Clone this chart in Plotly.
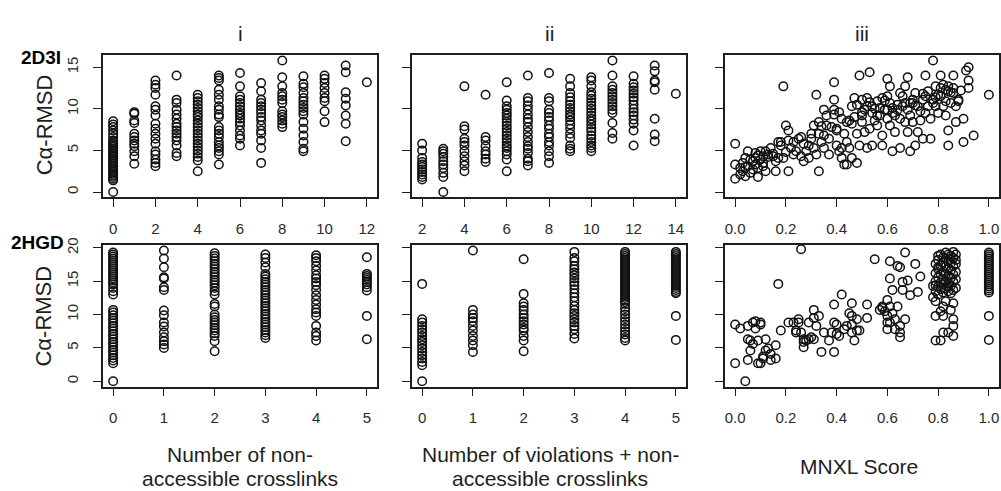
import plotly.graph_objects as go

# ---------------- data ----------------
# 2D3I, panel i: number of non-accessible crosslinks vs C-alpha RMSD
d3i_i_cats = [0, 1, 2, 3, 4, 5, 6, 7, 8, 9, 10, 11, 12]
d3i_i_vals = [
    [0.0, 1.4, 1.6, 1.8, 2.0, 2.2, 2.4, 2.6, 2.8, 3.0, 3.2, 3.4, 3.6, 3.8, 4.0, 4.2, 4.4, 4.6, 4.8, 5.0,
     5.2, 5.4, 5.6, 5.8, 6.0, 6.2, 6.6, 7.0, 7.4, 7.8, 8.1, 8.5],
    [3.4, 4.3, 4.9, 5.5, 5.8, 6.2, 6.6, 7.0, 8.3, 8.6, 9.4, 9.6],
    [3.1, 3.5, 3.9, 4.5, 4.9, 5.8, 6.4, 7.0, 7.6, 8.2, 9.2, 9.9, 10.3, 11.7, 12.5, 12.9, 13.4],
    [4.3, 4.7, 5.6, 6.2, 6.6, 7.0, 7.4, 7.8, 8.2, 8.8, 9.3, 9.9, 10.7, 11.1, 14.0],
    [2.5, 3.8, 4.2, 4.6, 5.0, 5.4, 5.8, 6.2, 6.6, 7.0, 7.4, 7.8, 8.2, 8.6, 9.0, 9.3, 9.7, 10.1, 10.5,
     10.9, 11.3, 11.7],
    [3.3, 4.5, 4.9, 5.3, 5.6, 6.0, 6.6, 7.0, 7.4, 7.8, 9.0, 9.3, 9.9, 10.3, 11.1, 11.7, 12.3, 13.4, 13.7, 14.0],
    [5.6, 6.4, 6.8, 7.4, 8.0, 8.4, 8.8, 9.2, 9.5, 9.9, 10.3, 10.7, 11.1, 11.5, 12.7, 14.3],
    [3.5, 5.3, 6.2, 7.0, 7.4, 8.0, 8.6, 9.0, 9.5, 9.9, 10.3, 10.7, 11.1, 12.1, 13.1],
    [7.8, 8.2, 8.6, 9.0, 9.3, 9.7, 10.7, 11.1, 11.5, 11.9, 12.7, 13.8, 15.8],
    [4.9, 5.2, 6.0, 6.8, 7.6, 8.4, 9.3, 9.7, 10.1, 10.5, 10.9, 11.3, 11.9, 12.6, 13.0, 13.9],
    [8.4, 9.7, 10.9, 11.3, 11.9, 12.5, 13.1, 13.6, 14.0],
    [6.1, 8.2, 9.2, 10.4, 11.2, 12.0, 14.4, 15.2],
    [13.2],
]

# 2D3I, panel ii: violations + non-accessible crosslinks
d3i_ii_cats = [2, 3, 4, 5, 6, 7, 8, 9, 10, 11, 12, 13, 14]
d3i_ii_vals = [
    [1.5, 1.8, 2.1, 2.4, 2.7, 3.0, 3.3, 3.6, 4.1, 5.0, 5.8],
    [0.0, 1.8, 2.3, 2.9, 3.3, 3.7, 4.2, 4.6, 4.9, 5.2],
    [2.5, 3.2, 3.7, 4.3, 4.9, 5.6, 6.0, 6.4, 7.5, 7.9, 12.7],
    [3.6, 4.0, 4.5, 4.9, 5.5, 6.2, 6.6, 11.7],
    [2.5, 3.9, 4.5, 4.9, 5.3, 5.6, 6.0, 6.4, 6.8, 7.2, 7.6, 8.0, 8.4, 8.8, 9.2, 9.5, 9.9, 10.3, 11.0, 13.2],
    [3.2, 3.7, 4.0, 4.7, 5.2, 5.5, 6.0, 6.6, 7.2, 7.8, 8.4, 8.8, 9.3, 9.9, 10.4, 10.9, 11.3, 14.0],
    [3.5, 4.3, 4.9, 5.6, 6.0, 6.6, 7.0, 7.6, 8.0, 8.6, 9.0, 9.5, 9.9, 10.9, 11.3, 14.3],
    [4.9, 5.2, 5.6, 6.5, 7.0, 7.6, 8.1, 8.6, 9.0, 9.3, 9.7, 10.1, 10.5, 10.9, 11.4, 11.9, 12.7, 13.6],
    [4.9, 5.3, 5.6, 6.0, 6.4, 6.8, 7.3, 7.7, 8.1, 8.5, 8.8, 9.2, 9.6, 10.0, 10.4, 10.8, 11.2, 11.6, 12.0,
     12.7, 13.4, 13.8],
    [6.4, 7.1, 8.3, 9.5, 9.9, 10.3, 10.7, 11.1, 11.5, 11.9, 12.3, 12.7, 14.0, 15.8],
    [5.6, 7.4, 8.2, 8.7, 9.2, 9.6, 10.0, 10.5, 11.0, 11.4, 11.8, 12.2, 12.6, 13.0, 13.9],
    [6.1, 6.9, 8.8, 12.3, 13.2, 13.4, 14.5, 15.2],
    [11.8],
]

# 2D3I, panel iii: MNXL score
d3i_iii_x = [0.00, 0.00, 0.00, 0.02, 0.03, 0.04, 0.04, 0.05, 0.06, 0.07, 0.08, 0.08, 0.09, 0.09, 0.10, 0.10,
             0.11, 0.12, 0.12, 0.14, 0.16, 0.16, 0.17, 0.17, 0.18, 0.19, 0.19, 0.20, 0.21, 0.21, 0.21, 0.23,
             0.24, 0.25, 0.26, 0.27, 0.28, 0.29, 0.30, 0.31, 0.32, 0.32, 0.33, 0.33, 0.33, 0.34, 0.35, 0.35,
             0.35, 0.36, 0.37, 0.37, 0.39, 0.39, 0.39, 0.39, 0.40, 0.40, 0.40, 0.41, 0.42, 0.42, 0.42, 0.43,
             0.44, 0.44, 0.45, 0.46, 0.46, 0.46, 0.47, 0.48, 0.48, 0.48, 0.49, 0.49, 0.50, 0.50, 0.50, 0.51,
             0.52, 0.52, 0.53, 0.53, 0.54, 0.54, 0.54, 0.55, 0.56, 0.56, 0.57, 0.58, 0.58, 0.59, 0.60, 0.60,
             0.60, 0.61, 0.61, 0.61, 0.62, 0.63, 0.63, 0.64, 0.65, 0.65, 0.66, 0.67, 0.67, 0.67, 0.68, 0.68,
             0.69, 0.69, 0.70, 0.70, 0.71, 0.71, 0.72, 0.73, 0.74, 0.75, 0.75, 0.75, 0.76, 0.77, 0.77, 0.78,
             0.79, 0.79, 0.80, 0.81, 0.81, 0.82, 0.83, 0.83, 0.84, 0.84, 0.84, 0.85, 0.86, 0.86, 0.87, 0.87,
             0.88, 0.90, 0.90, 0.91, 0.92, 0.92, 0.92, 0.94, 1.00, 0.78,
             0.52, 0.55, 0.58, 0.62, 0.66, 0.68, 0.70, 0.72, 0.74, 0.76, 0.78, 0.80, 0.82, 0.83, 0.84, 0.86,
             0.88, 0.56, 0.60, 0.47, 0.36, 0.31, 0.08, 0.05, 0.11, 0.13, 0.03, 0.22, 0.26, 0.44, 0.64, 0.69,
             0.73, 0.57, 0.50, 0.45, 0.38, 0.29, 0.15, 0.06,
             0.02, 0.04, 0.07, 0.09, 0.11, 0.13, 0.15, 0.18, 0.20, 0.23, 0.27, 0.30, 0.34, 0.41, 0.43, 0.51,
             0.53, 0.59, 0.62, 0.65, 0.71, 0.74, 0.79, 0.81, 0.85, 0.89]
d3i_iii_y = [5.8, 3.3, 1.6, 2.9, 2.5, 4.1, 1.9, 4.9, 2.3, 3.7, 4.7, 4.1, 2.9, 1.8, 4.9, 3.9,
             4.3, 2.5, 4.9, 5.3, 2.5, 3.7, 6.0, 4.1, 6.0, 12.7, 4.1, 8.0, 2.5, 7.4, 6.2, 4.5,
             4.9, 6.4, 4.3, 3.7, 4.9, 4.1, 6.4, 5.3, 11.7, 4.5, 8.4, 2.5, 7.0, 6.0, 6.8, 9.9,
             5.3, 8.0, 4.5, 6.4, 13.2, 11.1, 9.9, 9.3, 7.6, 5.6, 7.4, 4.9, 4.1, 8.8, 5.3, 3.3,
             8.4, 3.3, 5.3, 10.3, 8.2, 4.1, 11.3, 10.5, 7.0, 3.5, 14.0, 5.6, 11.1, 8.4, 9.2, 7.2,
             10.3, 5.3, 14.4, 7.6, 10.3, 5.6, 9.5, 8.6, 10.9, 8.0, 9.2, 5.6, 6.8, 9.9, 13.6, 8.8,
             11.5, 8.0, 12.7, 10.7, 4.9, 9.2, 7.2, 10.5, 8.8, 5.3, 10.3, 12.7, 8.4, 10.7, 7.2, 13.8,
             4.9, 9.2, 11.1, 8.4, 11.9, 5.6, 7.2, 9.7, 6.4, 14.0, 11.5, 9.5, 10.3, 8.8, 6.4, 11.1,
             10.3, 12.7, 9.5, 14.0, 11.5, 10.3, 12.3, 9.2, 12.7, 5.6, 7.4, 10.7, 11.9, 14.0, 8.4, 10.3,
             11.1, 8.8, 6.0, 14.6, 15.0, 13.4, 12.5, 6.8, 11.7, 15.8,
             11.3, 10.0, 11.3, 9.5, 11.5, 9.9, 10.7, 10.3, 11.1, 12.1, 10.7, 11.7, 12.9, 10.9, 12.1, 12.5,
             10.9, 9.2, 9.9, 9.0, 9.2, 8.0, 3.3, 3.1, 3.5, 4.5, 3.5, 5.3, 6.6, 6.0, 9.9, 10.7,
             8.6, 10.1, 9.6, 8.6, 7.8, 5.6, 4.3, 3.9,
             2.1, 3.0, 2.7, 4.4, 3.1, 4.2, 4.6, 5.6, 4.8, 6.0, 5.8, 7.0, 7.9, 9.6, 7.0, 9.9,
             10.8, 11.0, 10.1, 11.9, 10.4, 11.8, 11.4, 12.5, 12.0, 12.2]

# 2HGD, panel i
hgd_i_cats = [0, 1, 2, 3, 4, 5]
hgd_i_vals = [
    [0.0, 2.7, 3.1, 3.5, 3.9, 4.3, 4.7, 5.1, 5.5, 5.9, 6.3, 6.7, 7.1, 7.5, 7.9, 8.3, 8.7, 9.1, 9.5, 9.9,
     10.3, 10.7, 13.0, 13.5, 14.0, 14.5, 14.8, 15.1, 15.4, 15.7, 16.0, 16.3, 16.6, 16.9, 17.2, 17.5, 17.8,
     18.1, 18.4, 18.7, 19.0, 19.3],
    [5.0, 5.5, 6.0, 6.6, 7.3, 8.2, 8.8, 9.9, 10.6, 13.7, 14.1, 15.4, 15.6, 17.1, 18.4, 19.6],
    [4.5, 6.0, 6.8, 7.2, 7.6, 8.0, 8.4, 8.8, 9.2, 9.6, 10.0, 11.2, 11.6, 13.0, 13.5, 14.0, 14.4, 14.8,
     15.2, 15.6, 16.0, 16.4, 16.8, 17.2, 17.6, 18.0, 18.4, 18.8, 19.2],
    [6.5, 6.9, 7.3, 7.7, 8.1, 8.5, 8.9, 9.3, 9.7, 10.1, 10.5, 10.9, 11.3, 11.7, 12.1, 12.5, 12.9, 13.3,
     13.7, 14.1, 14.5, 14.9, 15.3, 15.7, 16.1, 17.1, 17.8, 18.5, 19.0],
    [6.1, 6.8, 7.3, 8.3, 9.8, 10.3, 10.8, 11.5, 12.2, 12.9, 13.7, 14.4, 14.9, 15.4, 15.9, 16.6, 17.3,
     18.0, 18.5, 18.9],
    [6.3, 9.8, 13.6, 14.1, 14.5, 14.9, 15.2, 15.5, 15.8, 16.1, 18.6],
]

# 2HGD, panel ii
hgd_ii_cats = [0, 1, 2, 3, 4, 5]
hgd_ii_vals = [
    [0.0, 2.4, 2.9, 3.4, 3.9, 4.4, 4.9, 5.4, 5.9, 6.3, 6.8, 7.3, 7.8, 8.3, 8.8, 9.3, 14.6],
    [4.4, 5.4, 6.1, 6.8, 7.6, 8.3, 9.0, 9.5, 10.0, 10.7, 19.6],
    [4.5, 6.1, 6.8, 7.6, 8.0, 8.5, 9.0, 9.5, 10.0, 10.7, 11.2, 11.7, 13.1, 18.3],
    [6.4, 7.1, 7.8, 8.3, 8.8, 9.3, 9.8, 10.2, 10.7, 11.3, 12.0, 12.6, 13.2, 13.8, 14.4, 14.9, 15.4,
     15.9, 16.3, 16.8, 17.3, 18.0, 18.5, 19.4],
    [6.1, 6.5, 7.0, 7.5, 8.0, 8.5, 9.0, 9.5, 10.0, 10.5, 11.0, 11.6, 11.9, 12.2, 12.5, 12.8, 13.1, 13.4,
     13.7, 14.0, 14.3, 14.6, 14.9, 15.2, 15.5, 15.8, 16.1, 16.4, 16.7, 17.0, 17.3, 17.6, 17.9, 18.2,
     18.5, 18.8, 19.1, 19.4],
    [6.2, 9.8, 13.2, 13.4, 13.7, 14.0, 14.3, 14.6, 14.9, 15.2, 15.5, 15.8, 16.1, 16.4, 16.7, 17.0, 17.3,
     17.6, 17.9, 18.2, 18.5, 18.8, 19.1, 19.4],
]

# 2HGD, panel iii
hgd_iii_x = [0.00, 0.00, 0.02, 0.04, 0.05, 0.05, 0.05, 0.06, 0.06, 0.07, 0.07, 0.08, 0.08, 0.09, 0.09,
             0.10, 0.10, 0.10, 0.11, 0.11, 0.12, 0.12, 0.13, 0.14, 0.14, 0.16, 0.16, 0.17, 0.18, 0.21,
             0.23, 0.24, 0.24, 0.25, 0.25, 0.26, 0.26, 0.27, 0.27, 0.27, 0.28, 0.29, 0.29, 0.30, 0.31,
             0.31, 0.31, 0.32, 0.33, 0.34, 0.35, 0.37, 0.38, 0.39, 0.39, 0.39, 0.40, 0.40, 0.41, 0.42,
             0.43, 0.44, 0.45, 0.46, 0.46, 0.46, 0.46, 0.47, 0.48, 0.48, 0.49, 0.52, 0.52, 0.55, 0.57,
             0.58, 0.58, 0.59, 0.60, 0.60, 0.60, 0.60, 0.61, 0.61, 0.61, 0.61, 0.62, 0.62, 0.63, 0.63,
             0.64, 0.64, 0.65, 0.65, 0.65, 0.65, 0.66, 0.66, 0.67, 0.67, 0.68, 0.69, 0.71, 0.72, 0.73,
             0.79, 0.79, 0.79, 0.79, 0.80, 0.80, 0.81, 0.81, 0.82, 0.82, 0.82, 0.83, 0.84, 0.84, 0.85,
             0.86, 0.86, 0.86, 0.86, 0.87,
             0.79, 0.79, 0.79, 0.79, 0.80, 0.80, 0.80, 0.80, 0.81, 0.81, 0.81, 0.81, 0.81, 0.82, 0.82,
             0.82, 0.82, 0.82, 0.82, 0.83, 0.83, 0.83, 0.83, 0.83, 0.83, 0.84, 0.84, 0.84, 0.84, 0.84,
             0.84, 0.85, 0.85, 0.85, 0.85, 0.85, 0.85, 0.86, 0.86, 0.86, 0.86, 0.86, 0.86, 0.87, 0.87,
             0.87, 0.87, 0.87, 0.80, 0.78, 0.78,
             1.0, 1.0, 1.0, 1.0, 1.0, 1.0, 1.0, 1.0, 1.0, 1.0, 1.0, 1.0, 1.0, 1.0, 1.0, 1.0, 1.0, 1.0,
             1.0, 1.0, 1.0, 1.0, 1.0]
hgd_iii_y = [2.7, 8.5, 7.9, 0.0, 8.3, 3.2, 6.3, 4.6, 6.1, 5.6, 8.8, 9.0, 7.9, 2.7, 6.1,
             8.5, 2.7, 8.8, 3.4, 3.7, 6.3, 4.6, 4.9, 3.2, 4.1, 5.4, 3.4, 14.6, 7.6, 8.8,
             8.8, 7.6, 7.3, 9.3, 8.8, 7.3, 19.8, 5.1, 5.9, 6.3, 6.1, 6.3, 8.8, 6.6, 9.5,
             10.7, 6.3, 8.3, 9.8, 4.4, 7.3, 6.1, 7.3, 4.4, 11.5, 8.8, 8.5, 7.1, 6.8, 13.0,
             7.8, 8.3, 10.2, 11.7, 9.8, 7.3, 8.5, 6.1, 7.6, 9.3, 7.6, 11.5, 9.5, 18.3, 10.7,
             11.2, 11.0, 10.5, 12.2, 8.8, 7.8, 9.8, 15.4, 18.0, 11.2, 8.8, 13.7, 10.2, 7.8, 9.3,
             11.2, 17.3, 17.1, 8.3, 7.3, 6.6, 13.7, 14.9, 19.3, 9.3, 15.1, 12.9, 17.6, 13.4, 15.7,
             6.1, 9.8, 12.0, 14.4, 17.1, 18.8, 6.1, 10.5, 9.8, 7.3, 11.2, 12.0, 14.1, 7.3, 10.7,
             6.8, 11.7, 8.3, 9.3, 19.0,
             13.5, 15.0, 16.2, 17.6, 14.2, 15.6, 16.8, 18.2, 13.8, 14.8, 16.0, 17.4, 19.0, 13.3, 14.5,
             15.3, 16.5, 17.8, 18.6, 13.9, 15.0, 16.1, 17.2, 18.4, 19.3, 13.5, 14.7, 15.8, 16.9, 18.0,
             19.0, 13.2, 14.3, 15.5, 16.6, 17.7, 18.8, 13.7, 14.9, 16.0, 17.3, 18.5, 19.4, 14.0, 15.3,
             16.4, 17.6, 18.2, 13.0, 14.3, 12.6,
             19.3, 19.0, 18.7, 18.4, 18.1, 17.8, 17.5, 17.2, 16.9, 16.6, 16.3, 16.0, 15.7, 15.4, 15.1,
             14.8, 14.5, 14.2, 13.9, 13.6, 13.3, 9.8, 6.2]

col_titles = ["i", "ii", "iii"]
row_labels = ["2D3I", "2HGD"]
y_title = "Cα-RMSD"
x_titles = [["Number of non-", "accessible crosslinks"],
            ["Number of violations + non-", "accessible crosslinks"],
            ["MNXL Score"]]

# ---------------- layout helpers ----------------
W, H = 1001, 491
FONT = "Liberation Sans, Arial, Helvetica, sans-serif"
INK = "#1e1e1e"


def px(x):
    return x / W


def py(y):
    return 1 - y / H


def expand(cats, vals):
    xs, ys = [], []
    for c, v in zip(cats, vals):
        xs += [c] * len(v)
        ys += list(v)
    return xs, ys


cols_px = [(103, 377), (412, 686), (725, 999)]
rows_px = [(49, 193), (241, 385)]

panels = [
    (0, 0, *expand(d3i_i_cats, d3i_i_vals), [-0.48, 12.48], list(range(0, 13, 2)), None),
    (0, 1, *expand(d3i_ii_cats, d3i_ii_vals), [1.52, 14.48], list(range(2, 15, 2)), None),
    (0, 2, d3i_iii_x, d3i_iii_y, [-0.04, 1.04], [0, 0.2, 0.4, 0.6, 0.8, 1.0], ".1f"),
    (1, 0, *expand(hgd_i_cats, hgd_i_vals), [-0.2, 5.2], list(range(0, 6)), None),
    (1, 1, *expand(hgd_ii_cats, hgd_ii_vals), [-0.2, 5.2], list(range(0, 6)), None),
    (1, 2, hgd_iii_x, hgd_iii_y, [-0.04, 1.04], [0, 0.2, 0.4, 0.6, 0.8, 1.0], ".1f"),
]
y_ranges = [[-0.63, 16.43], [-0.79, 20.5]]
y_ticks = [[0, 5, 10, 15], [0, 5, 10, 15, 20]]

fig = go.Figure()
layout = dict(
    width=W, height=H, margin=dict(l=0, r=0, t=0, b=0),
    paper_bgcolor="white", plot_bgcolor="white", showlegend=False,
    font=dict(family=FONT, color=INK),
)

axis_common = dict(
    showline=True, mirror=True, linecolor=INK, linewidth=1.5,
    ticks="outside", ticklen=8, tickwidth=1.3, tickcolor=INK,
    showgrid=False, zeroline=False,
    tickfont=dict(family=FONT, size=15, color="#2a2a2a"),
    ticklabelstandoff=9,
)

for i, (r, c, xs, ys, xr, xt, xfmt) in enumerate(panels):
    n = i + 1
    xa = "x" if n == 1 else f"x{n}"
    ya = "y" if n == 1 else f"y{n}"
    fig.add_trace(go.Scatter(
        x=xs, y=ys, xaxis=xa, yaxis=ya, mode="markers",
        marker=dict(symbol="circle-open", size=8.5, color="#111",
                    line=dict(width=1.5, color="#111")),
        hoverinfo="skip",
    ))
    x0, x1 = cols_px[c]
    y0, y1 = rows_px[r]
    xkey = "xaxis" if n == 1 else f"xaxis{n}"
    ykey = "yaxis" if n == 1 else f"yaxis{n}"
    xax = dict(axis_common, domain=[px(x0), px(x1)], range=xr, tickvals=xt,
               anchor=ya)
    if xfmt:
        xax["tickformat"] = xfmt
    yax = dict(axis_common, domain=[py(y1), py(y0)], range=y_ranges[r],
               tickvals=y_ticks[r], tickangle=-90, anchor=xa,
               showticklabels=(c == 0))
    layout[xkey] = xax
    layout[ykey] = yax

ann = []
col_centers = [240, 549, 862]
for c, t in enumerate(col_titles):
    ann.append(dict(text=t, x=px(col_centers[c]), y=py(27), xref="paper", yref="paper",
                    showarrow=False, xanchor="center", yanchor="middle",
                    font=dict(size=21, color=INK, family=FONT)))
ann.append(dict(text="<b>" + row_labels[0] + "</b>", x=px(19), y=py(51), xref="paper", yref="paper",
                showarrow=False, xanchor="left", yanchor="middle",
                font=dict(size=19, color="#000", family=FONT)))
ann.append(dict(text="<b>" + row_labels[1] + "</b>", x=px(9), y=py(239), xref="paper", yref="paper",
                showarrow=False, xanchor="left", yanchor="middle",
                font=dict(size=19, color="#000", family=FONT)))
for yc in [120, 314]:
    ann.append(dict(text=y_title, x=px(44), y=py(yc), xref="paper", yref="paper",
                    showarrow=False, textangle=-90, xanchor="center", yanchor="middle",
                    font=dict(size=22, color=INK, family=FONT)))
xt_centers = [240, 550, 859]
for c, lines in enumerate(x_titles):
    if len(lines) == 2:
        ys_ = [454, 478]
    else:
        ys_ = [466]
    for line, yy in zip(lines, ys_):
        ann.append(dict(text=line, x=px(xt_centers[c]), y=py(yy), xref="paper", yref="paper",
                        showarrow=False, xanchor="center", yanchor="middle",
                        font=dict(size=21, color=INK, family=FONT)))
layout["annotations"] = ann
fig.update_layout(**layout)
fig.write_html(
    "out.html",
    config={"displayModeBar": False},
    post_script="document.body.style.margin='0';document.body.style.overflow='hidden';",
)
